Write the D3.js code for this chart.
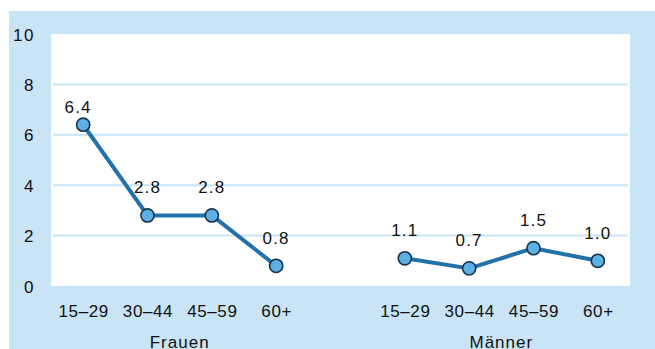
<!DOCTYPE html>
<html>
<head>
<meta charset="utf-8">
<script src="https://cdn.jsdelivr.net/npm/d3@7"></script>
<style>
  html, body { margin: 0; padding: 0; background: #ffffff; }
  svg { display: block; }
  text { font-family: "Liberation Sans", Arial, Helvetica, sans-serif; fill: #111; }
</style>
</head>
<body>
<svg id="chart" width="655" height="349"></svg>
<script>
// ---- data ----
const groups = ["Frauen", "Männer"];
const ageGroups = ["15–29", "30–44", "45–59", "60+"];
const frauenValues = [6.4, 2.8, 2.8, 0.8];
const maennerValues = [1.1, 0.7, 1.5, 1.0];
const yTicks = [0, 2, 4, 6, 8, 10];

const seriesValues = [frauenValues, maennerValues];

// ---- layout ----
const W = 655, H = 349;
const bg = { x: 9, y: 11 };
const plot = { left: 51, right: 630, top: 34, bottom: 286 };
const FS = 17;

const svg = d3.select("#chart");

svg.append("rect")
  .attr("x", bg.x).attr("y", bg.y)
  .attr("width", W - bg.x).attr("height", H - bg.y)
  .attr("fill", "#c9e4f5");

svg.append("rect")
  .attr("x", plot.left).attr("y", plot.top)
  .attr("width", plot.right - plot.left).attr("height", plot.bottom - plot.top)
  .attr("fill", "#ffffff");

// x slots: 4 categories, a gap, 4 categories
const slots = [];
groups.forEach((g, gi) => {
  if (gi > 0) slots.push("gap" + gi);
  ageGroups.forEach(a => slots.push(g + "|" + a));
});

const x = d3.scalePoint()
  .domain(slots)
  .range([plot.left, plot.right])
  .padding(0.5);

const y = d3.scaleLinear()
  .domain([0, 10])
  .range([plot.bottom, plot.top]);

// gridlines
svg.append("g")
  .selectAll("line")
  .data(yTicks.filter(t => t > 0 && t < 10))
  .join("line")
  .attr("x1", plot.left + 2).attr("x2", plot.right - 2)
  .attr("y1", d => y(d)).attr("y2", d => y(d))
  .attr("stroke", "#c9e4f5")
  .attr("stroke-width", 2);

// y axis
const yAxis = d3.axisLeft(y).tickValues(yTicks).tickSize(0).tickPadding(0);
const yg = svg.append("g")
  .attr("transform", `translate(${35},0)`)
  .call(yAxis);
yg.select(".domain").remove();
yg.selectAll("text")
  .attr("font-size", FS)
  .attr("font-family", "Liberation Sans, Arial, sans-serif")
  .attr("fill", "#111")
  .attr("letter-spacing", "1.5px")
  .attr("dy", "0.36em");

// x axis (category labels)
const xAxis = d3.axisBottom(x)
  .tickValues(slots.filter(s => !s.startsWith("gap")))
  .tickFormat(s => s.split("|")[1])
  .tickSize(0).tickPadding(0);
const xg = svg.append("g")
  .attr("transform", `translate(0,${plot.bottom + 31})`)
  .call(xAxis);
xg.select(".domain").remove();
xg.selectAll("text")
  .attr("font-size", FS)
  .attr("font-family", "Liberation Sans, Arial, sans-serif")
  .attr("fill", "#111")
  .attr("dy", 0)
  .attr("letter-spacing", "0.6px");

// group labels
svg.append("g")
  .selectAll("text")
  .data(groups)
  .join("text")
  .attr("x", g => (x(g + "|" + ageGroups[0]) + x(g + "|" + ageGroups[ageGroups.length - 1])) / 2)
  .attr("y", plot.bottom + 62)
  .attr("text-anchor", "middle")
  .attr("font-size", FS)
  .attr("letter-spacing", "1px")
  .text(g => g);

// lines and points
const line = d3.line()
  .x(d => x(d.key))
  .y(d => y(d.value));

groups.forEach((g, gi) => {
  const vals = seriesValues[gi];
  const pts = ageGroups.map((a, i) => ({ key: g + "|" + a, value: vals[i] }));
  const maxV = d3.max(vals);

  svg.append("path")
    .datum(pts)
    .attr("d", line)
    .attr("fill", "none")
    .attr("stroke", "#2171aa")
    .attr("stroke-width", 4)
    .attr("stroke-linejoin", "round");

  svg.append("g")
    .selectAll("circle")
    .data(pts)
    .join("circle")
    .attr("cx", d => x(d.key))
    .attr("cy", d => y(d.value))
    .attr("r", 6.6)
    .attr("fill", "#5cb0e4")
    .attr("stroke", "#17344e")
    .attr("stroke-width", 1.6);

  svg.append("g")
    .selectAll("text")
    .data(pts)
    .join("text")
    .attr("x", d => x(d.key) - (gi === 0 && d.value === maxV ? 5 : 0))
    .attr("y", d => y(d.value) - (gi === 0 && d.value === maxV ? 12 : 22))
    .attr("text-anchor", "middle")
    .attr("font-size", FS)
    .attr("letter-spacing", "1.2px")
    .text(d => d.value.toFixed(1));
});
</script>
</body>
</html>
